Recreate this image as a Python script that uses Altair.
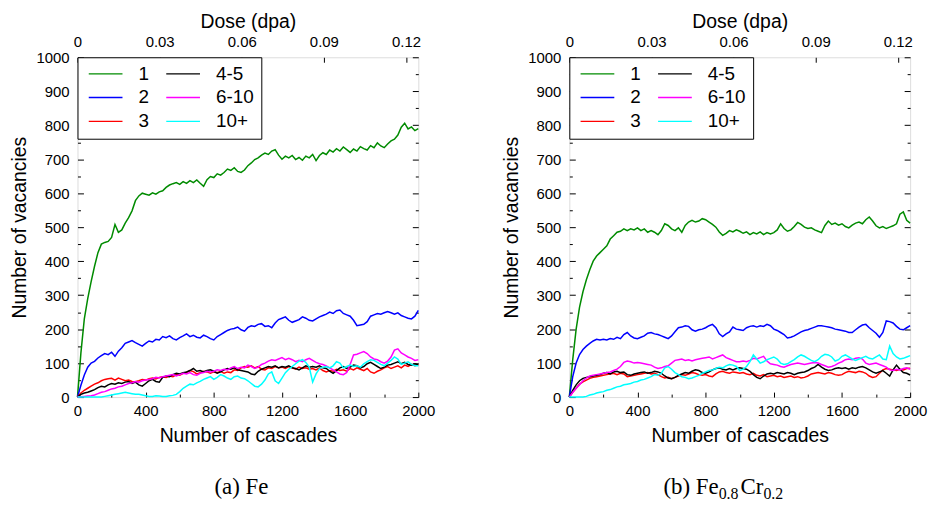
import altair as alt
import pandas as pd

# ---------------- data ----------------
CASCADES = list(range(0, 2001, 20))
SERIES = ["1", "2", "3", "4-5", "6-10", "10+"]
SERIES_COLORS = ["#008b00", "#0000ff", "#ff0000", "#000000", "#ff00ff", "#00ffff"]

# panel (a) Fe
FE_1 = [0, 130, 230, 290, 340, 385, 425, 450, 455, 458,
        470, 508, 485, 492, 512, 528, 548, 578, 592, 600,
        597, 594, 601, 597, 604, 607, 617, 624, 628, 631,
        626, 634, 629, 637, 631, 639, 629, 620, 640, 649,
        646, 657, 653, 661, 671, 667, 675, 664, 661, 668,
        681, 689, 699, 704, 712, 718, 714, 724, 728, 712,
        700, 709, 704, 711, 699, 705, 697, 709, 704, 714,
        696, 711, 719, 714, 727, 721, 731, 724, 736, 728,
        720, 730, 724, 737, 731, 727, 740, 734, 748, 739,
        734, 745, 754, 759, 771, 794, 806, 789, 795, 784,
        790]
FE_2 = [0, 35, 65, 88, 100, 105, 115, 122, 128, 125,
        132, 120, 135, 145, 158, 162, 166, 160, 155, 150,
        158, 165, 162, 170, 168, 178, 175, 180, 172, 168,
        175, 180, 186, 178, 182, 176, 174, 182, 178, 172,
        168, 178, 184, 190, 196, 200, 202, 206, 198, 194,
        205, 210, 208, 214, 216, 208, 210, 204, 218, 228,
        232, 236, 226, 220, 224, 228, 236, 232, 226, 224,
        230, 236, 240, 244, 250, 246, 254, 256, 246, 242,
        238, 226, 210, 212, 214, 222, 238, 242, 246, 244,
        248, 252, 248, 244, 248, 240, 236, 232, 230, 238,
        255]
FE_3 = [0, 12, 20, 26, 32, 38, 42, 48, 52, 54,
        55, 50, 56, 52, 48, 50, 46, 45, 48, 52,
        50, 54, 56, 53, 58, 60, 58, 62, 60, 66,
        64, 70, 72, 78, 75, 68, 72, 76, 74, 70,
        74, 72, 76, 70, 74, 72, 80, 78, 86, 90,
        88, 92, 86, 90, 82, 80, 86, 84, 90, 86,
        88, 84, 90, 86, 82, 88, 84, 86, 82, 84,
        80, 86, 78, 74, 78, 76, 82, 78, 80, 76,
        84, 80, 86, 82, 78, 84, 74, 70, 76, 80,
        86, 90, 84, 88, 92, 86, 94, 90, 96, 92,
        95]
FE_45 = [0, 8, 12, 14, 18, 22, 28, 32, 30, 36,
         40, 38, 42, 40, 44, 46, 40, 44, 36, 32,
         40, 48, 52, 46, 44, 58, 62, 60, 66, 70,
         68, 72, 74, 78, 84, 76, 78, 74, 78, 80,
         76, 70, 74, 80, 84, 82, 86, 80, 78, 76,
         74, 68, 66, 76, 82, 86, 90, 88, 92, 86,
         90, 88, 92, 86, 84, 80, 86, 92, 88, 90,
         88, 92, 86, 84, 76, 70, 78, 86, 90, 84,
         88, 94, 92, 86, 90, 98, 102, 96, 90, 84,
         88, 94, 96, 100, 104, 98, 102, 96, 94, 98,
         95]
FE_610 = [0, 1, 2, 3, 4, 6, 10, 14, 16, 20,
          24, 26, 30, 32, 36, 40, 42, 46, 44, 48,
          50, 52, 54, 58, 56, 60, 62, 64, 66, 62,
          66, 70, 68, 72, 66, 64, 70, 72, 76, 74,
          76, 80, 78, 82, 80, 86, 90, 84, 88, 86,
          94, 90, 84, 88, 96, 100, 106, 110, 108, 112,
          116, 110, 114, 110, 104, 108, 104, 110, 114, 108,
          102, 98, 96, 92, 86, 80, 74, 68, 66, 72,
          96, 124, 126, 130, 134, 128, 118, 112, 110, 104,
          100, 106, 118, 138, 142, 130, 124, 118, 114, 108,
          110]
FE_10P = [0, 0, 0, 0, 0, 0, 0, 0, 2, 4,
          6, 8, 10, 12, 14, 12, 10, 8, 8, 6,
          4, 2, 2, 4, 3, 2, 2, 4, 5, 8,
          16, 26, 32, 38, 36, 42, 46, 52, 56, 60,
          52, 58, 66, 62, 56, 52, 60, 62, 56, 54,
          48, 40, 32, 30, 38, 50, 68, 74, 48, 40,
          56, 72, 82, 90, 98, 106, 110, 102, 88, 44,
          68, 84, 88, 90, 86, 92, 104, 100, 86, 90,
          94, 90, 92, 88, 98, 104, 110, 108, 102, 96,
          92, 100, 108, 118, 112, 96, 100, 104, 96, 92,
          92]

# panel (b) Fe0.8Cr0.2
FECR_1 = [0, 110, 200, 265, 310, 345, 375, 400, 415, 425,
          435, 445, 465, 475, 485, 488, 495, 490, 495, 492,
          498, 490, 495, 485, 490, 485, 478, 490, 510, 505,
          495, 490, 498, 485, 505, 515, 520, 515, 518, 525,
          522, 515, 508, 500, 486, 476, 482, 490, 486, 492,
          488, 482, 486, 478, 484, 480, 486, 478, 484, 480,
          484, 492, 510, 496, 488, 492, 502, 514, 508, 500,
          496, 498, 492, 488, 484, 505, 518, 508, 512, 506,
          510, 502, 498, 506, 512, 515, 510, 522, 530, 518,
          504, 498, 502, 496, 500, 504, 510, 538, 545, 520,
          512]
FECR_2 = [0, 60, 100, 125, 140, 150, 158, 165, 170, 168,
          170, 168, 172, 170, 176, 172, 184, 190, 180, 174,
          172, 176, 180, 188, 190, 186, 184, 180, 176, 172,
          180, 192, 204, 206, 210, 208, 198, 194, 198, 200,
          204, 210, 214, 204, 186, 178, 186, 192, 206, 200,
          198, 196, 204, 208, 210, 206, 210, 208, 214, 210,
          200, 196, 190, 184, 174, 176, 180, 186, 192, 196,
          198, 202, 206, 210, 210, 208, 206, 204, 200, 198,
          196, 194, 190, 190, 198, 206, 212, 214, 204, 196,
          188, 176, 190, 224, 222, 218, 208, 200, 198, 204,
          210]
FECR_3 = [0, 14, 26, 38, 45, 50, 55, 58, 60, 62,
          64, 66, 68, 70, 66, 70, 68, 60, 62, 64,
          66, 68, 70, 72, 68, 70, 66, 60, 56, 58,
          54, 58, 62, 66, 64, 68, 72, 70, 66, 64,
          66, 62, 60, 68, 74, 76, 72, 70, 74, 72,
          70, 72, 68, 66, 70, 64, 62, 66, 60, 62,
          64, 60, 62, 58, 60, 62, 58, 60, 56, 58,
          62, 68, 70, 72, 70, 68, 72, 70, 66, 64,
          66, 72, 76, 74, 72, 76, 74, 70, 62, 58,
          60, 70, 80, 84, 82, 80, 78, 82, 80, 84,
          85]
FECR_45 = [0, 20, 36, 48, 55, 58, 60, 62, 64, 66,
           70, 72, 68, 74, 76, 72, 74, 66, 64, 68,
           70, 72, 74, 70, 72, 76, 74, 70, 62, 56,
           54, 58, 64, 68, 72, 70, 76, 80, 78, 72,
           70, 74, 80, 84, 86, 82, 80, 84, 80, 84,
           86, 84, 82, 76, 66, 58, 54, 62, 68, 70,
           68, 72, 70, 68, 72, 70, 66, 70, 72, 74,
           78, 84, 88, 96, 88, 82, 78, 80, 84, 86,
           84, 86, 82, 86, 84, 88, 90, 86, 80, 74,
           70, 74, 78, 70, 62, 80, 94, 82, 72, 70,
           65]
FECR_610 = [0, 14, 26, 36, 48, 56, 62, 64, 66, 68,
            70, 72, 74, 78, 82, 90, 102, 106, 104, 100,
            102, 100, 98, 96, 94, 88, 84, 86, 90, 92,
            100, 108, 110, 112, 108, 110, 106, 110, 112, 114,
            116, 118, 112, 116, 120, 124, 116, 112, 108, 104,
            104, 106, 104, 108, 114, 112, 116, 120, 106, 98,
            96, 94, 90, 88, 92, 96, 98, 100, 98, 96,
            98, 100, 102, 100, 96, 92, 88, 90, 94, 100,
            104, 110, 112, 110, 114, 116, 112, 100, 96, 98,
            100, 96, 92, 88, 80, 78, 82, 80, 84, 86,
            82]
FECR_10P = [0, 0, 0, 0, 0, 2, 6, 8, 12, 14,
            16, 20, 22, 26, 30, 32, 36, 38, 40, 44,
            46, 50, 52, 56, 60, 66, 64, 70, 86, 90,
            82, 72, 66, 60, 58, 54, 56, 60, 64, 70,
            74, 78, 80, 84, 88, 86, 92, 96, 94, 90,
            78, 82, 90, 104, 124, 112, 100, 104, 110, 114,
            118, 112, 100, 96, 98, 104, 110, 118, 124, 120,
            114, 108, 104, 110, 120, 126, 124, 118, 106, 110,
            120, 124, 118, 112, 108, 112, 116, 120, 114, 112,
            118, 124, 112, 110, 150, 128, 118, 112, 114, 118,
            122]

# axis ticks / labels
X_TICKS = [0, 400, 800, 1200, 1600, 2000]
X_MINOR = [200, 600, 1000, 1400, 1800]
Y_TICKS = [0, 100, 200, 300, 400, 500, 600, 700, 800, 900, 1000]
Y_MINOR = [50, 150, 250, 350, 450, 550, 650, 750, 850, 950]
DOSE_TICKS = [0, 0.03, 0.06, 0.09, 0.12]
DOSE_AT_2000 = 0.1245  # dose reached after 2000 cascades
DOSE_POS = [d / DOSE_AT_2000 * 2000 for d in DOSE_TICKS]

CAPTION_A = "(a) Fe"
CAPTION_B = ["(b) Fe", "0.8", "Cr", "0.2"]

# ---------------- chart ----------------
W, H = 343, 342
SANS = "Liberation Sans"
SERIF = "Liberation Serif"


def build_df(values):
    rows = []
    for name, vals in zip(SERIES, values):
        assert len(vals) == len(CASCADES), (name, len(vals))
        for c, v in zip(CASCADES, vals):
            rows.append({"cascades": c, "vacancies": v, "cluster": name})
    return pd.DataFrame(rows)


def panel(values, caption_layers):
    df = build_df(values)
    xs = alt.Scale(domain=[0, 2000], nice=False, zero=False)
    ys = alt.Scale(domain=[0, 1000], nice=False, zero=False)
    cscale = alt.Scale(domain=SERIES, range=SERIES_COLORS)
    legend = alt.Legend(
        title=None, orient="none", legendX=0, legendY=0, columns=2,
        symbolType="M-3,0L3,0", symbolSize=128, symbolStrokeWidth=1.4,
        symbolOffset=11.8, labelOffset=23.5, labelFont=SANS, labelFontSize=19,
        labelColor="black", strokeColor="black", fillColor="white",
        padding=7, rowPadding=4, columnPadding=13,
    )
    layers = []
    for name in SERIES:
        layers.append(
            alt.Chart(df)
            .transform_filter(alt.datum.cluster == name)
            .mark_line(strokeWidth=1.5)
            .encode(
                x=alt.X("cascades:Q", scale=xs, axis=None),
                y=alt.Y("vacancies:Q", scale=ys, axis=None),
                color=alt.Color("cluster:N", scale=cscale, legend=legend),
            )
        )

    common = dict(grid=False, labelFont=SANS, labelColor="black", titleFont=SANS,
                  titleColor="black", titleFontWeight="normal", tickColor="black",
                  labelOverlap=False)

    def tick_axis(orient, vals, size):
        return alt.Axis(orient=orient, values=vals, labels=False, domain=False,
                        ticks=True, tickSize=size, offset=-size, title=None,
                        tickWidth=1, **common)

    bottom_labels = alt.Axis(orient="bottom", values=X_TICKS, format="d", ticks=False,
                             domain=False, labelFontSize=15, labelPadding=7,
                             labelFlush=False, title="Number of cascades",
                             titleFontSize=19.5, titlePadding=8, **common)
    top_labels = alt.Axis(orient="top", values=DOSE_POS, ticks=False, domain=False,
                          labelExpr=f"format(datum.value * {DOSE_AT_2000} / 2000, '.2~f')",
                          labelFontSize=15, labelPadding=7.4, labelFlush=False,
                          title="Dose (dpa)", titleFontSize=19.5, titlePadding=4, **common)
    left_labels = alt.Axis(orient="left", values=Y_TICKS, format="d", ticks=False,
                           domain=False, labelFontSize=15, labelPadding=8.5,
                           title="Number of vacancies", titleFontSize=19.5,
                           titlePadding=6.6, **common)

    axis_pairs = [
        (bottom_labels, left_labels),
        (tick_axis("bottom", X_TICKS, 5), tick_axis("left", Y_TICKS, 6)),
        (tick_axis("bottom", X_MINOR, 3), tick_axis("left", Y_MINOR, 3)),
        (top_labels, tick_axis("right", Y_TICKS, 6)),
        (tick_axis("top", DOSE_POS, 5), tick_axis("right", Y_MINOR, 3)),
    ]
    for xa, ya in axis_pairs:
        layers.append(
            alt.Chart(df).mark_point(opacity=0).encode(
                x=alt.X("cascades:Q", scale=xs, axis=xa),
                y=alt.Y("vacancies:Q", scale=ys, axis=ya),
            )
        )
    layers.extend(caption_layers)
    return (
        alt.layer(*layers)
        .resolve_axis(x="independent", y="independent")
        .properties(width=W, height=H)
    )


def caption_piece(text, x, y, size, align="left"):
    return alt.Chart(pd.DataFrame({"t": [text]})).mark_text(
        font=SERIF, fontSize=size, align=align, baseline="alphabetic", color="black"
    ).encode(text="t:N", x=alt.value(x), y=alt.value(y))


CAP_Y = 440
cap_a = [caption_piece(CAPTION_A, 165, CAP_Y, 23, align="center")]
cap_b = [
    caption_piece(CAPTION_B[0], 94.7, CAP_Y, 23),
    caption_piece(CAPTION_B[1], 150.3, CAP_Y + 5, 16),
    caption_piece(CAPTION_B[2], 172.3, CAP_Y, 23),
    caption_piece(CAPTION_B[3], 195.3, CAP_Y + 5, 16),
]

pa = panel([FE_1, FE_2, FE_3, FE_45, FE_610, FE_10P], cap_a)
pb = panel([FECR_1, FECR_2, FECR_3, FECR_45, FECR_610, FECR_10P], cap_b)

chart = (
    alt.hconcat(pa, pb, spacing=65)
    .resolve_scale(color="independent")
    .resolve_legend(color="independent")
    .configure_view(stroke="black", strokeWidth=1)
    .configure(font=SANS)
    .properties(padding={"left": 9, "top": 9, "right": 2, "bottom": 1}, background="white")
)

chart.save("out.html", embed_options={"renderer": "svg", "actions": False})
